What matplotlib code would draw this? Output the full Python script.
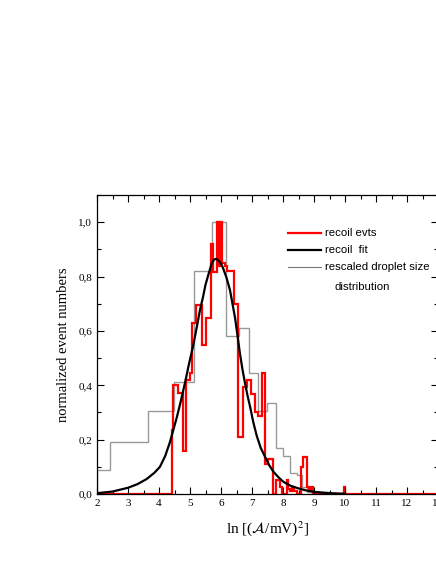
import matplotlib
matplotlib.use("Agg")
from matplotlib import pyplot as plt
from matplotlib.ticker import MultipleLocator, FuncFormatter

plt.rcParams['font.family'] = ['Liberation Serif', 'DejaVu Serif']
plt.rcParams['mathtext.fontset'] = 'stix'

# recoil events (red step histogram)
recoil_edges = [2.0, 4.41, 4.46, 4.62, 4.76, 4.87, 5.00, 5.08, 5.19, 5.38, 5.50,
                5.67, 5.75, 5.86, 5.92, 5.97, 6.03, 6.13, 6.20, 6.42, 6.56,
                6.70, 6.83, 6.97, 7.10, 7.20, 7.31, 7.42, 7.53, 7.69, 7.76,
                7.90, 7.98, 8.12, 8.17, 8.22, 8.30, 8.37, 8.45, 8.58, 8.63,
                8.76, 8.85, 8.90, 8.97, 9.03, 9.97, 10.01, 13.0]
recoil_vals = [0.0, 0.235, 0.40, 0.37, 0.158, 0.42, 0.445, 0.63, 0.697, 0.55,
               0.648, 0.92, 0.817, 1.0, 0.84, 1.0, 0.85, 0.84, 0.82, 0.70,
               0.21, 0.395, 0.42, 0.368, 0.303, 0.287, 0.446, 0.11, 0.13,
               0.0, 0.05, 0.027, 0.0, 0.05, 0.02, 0.01, 0.027, 0.01, 0.0,
               0.10, 0.137, 0.027, 0.015, 0.027, 0.0, 0.0, 0.025, 0.0]

# rescaled droplet size distribution (grey step histogram)
droplet_edges = [2.0, 2.42, 3.63, 4.48, 5.14, 5.70, 6.15, 6.58, 6.90, 7.20,
                 7.47, 7.76, 8.01, 8.23, 8.44, 8.60, 8.76, 9.50]
droplet_vals = [0.088, 0.19, 0.305, 0.413, 0.82, 1.0, 0.58, 0.61, 0.444,
                0.305, 0.334, 0.168, 0.14, 0.078, 0.07, 0.027, 0.008]

# recoil fit
fit_x = [2.0, 2.5, 3.0, 3.3, 3.6, 3.85, 4.03, 4.2, 4.35, 4.46, 4.57, 4.7,
         4.84, 4.97, 5.11, 5.22, 5.32, 5.42, 5.5, 5.6, 5.7, 5.77, 5.83,
         5.89, 5.95, 6.01, 6.07, 6.18, 6.29, 6.37, 6.45, 6.53, 6.61, 6.69,
         6.77, 6.85, 6.94, 7.04, 7.15, 7.28, 7.42, 7.55, 7.69, 7.85, 8.01,
         8.25, 8.49, 8.75, 9.0, 9.5, 10.0]
fit_y = [0.003, 0.009, 0.023, 0.036, 0.055, 0.078, 0.10, 0.14, 0.19, 0.235,
         0.28, 0.34, 0.41, 0.48, 0.55, 0.615, 0.676, 0.725, 0.77, 0.81,
         0.848, 0.862, 0.865, 0.862, 0.855, 0.845, 0.83, 0.795, 0.75, 0.70,
         0.65, 0.585, 0.517, 0.46, 0.41, 0.365, 0.32, 0.265, 0.215, 0.17,
         0.137, 0.107, 0.082, 0.062, 0.045, 0.03, 0.021, 0.013, 0.008,
         0.003, 0.001]

fig = plt.figure(figsize=(4.36, 5.64), dpi=100)
ax = fig.add_axes([0.2225, 0.1241, 0.7821, 0.5301])

ax.stairs(droplet_vals, droplet_edges, color='#999999', linewidth=1.0)
ax.stairs(recoil_vals, recoil_edges, color='#ff0000', linewidth=1.6)
ax.plot(fit_x, fit_y, color='black', linewidth=1.6)

ax.set_xlim(2, 13)
ax.set_ylim(0, 1.1)
ax.xaxis.set_major_locator(MultipleLocator(1))
ax.xaxis.set_minor_locator(MultipleLocator(0.5))
ax.yaxis.set_major_locator(MultipleLocator(0.2))
ax.yaxis.set_minor_locator(MultipleLocator(0.1))
ax.yaxis.set_major_formatter(FuncFormatter(lambda v, p: ('%.1f' % v).replace('.', ',')))
ax.tick_params(which='both', direction='in', top=True, right=True, labelsize=8, width=0.8)
ax.tick_params(which='major', length=5)
ax.tick_params(which='minor', length=3)
for s in ax.spines.values():
    s.set_linewidth(0.9)

ax.set_ylabel('normalized event numbers', fontsize=10.5, labelpad=6)
ax.set_xlabel(r'ln [($\mathcal{A}$/mV)$^2$]', fontsize=11, labelpad=8)

# legend drawn by hand
leg_font = ['Liberation Sans', 'DejaVu Sans']
rows = [('recoil evts', '#ff0000', 1.6), ('recoil  fit', 'black', 1.6),
        ('rescaled droplet size', '#777777', 0.8)]
for i, (lab, col, lw) in enumerate(rows):
    yy = 0.874 - i * 0.057
    ax.plot([0.559, 0.658], [yy, yy], transform=ax.transAxes, color=col, linewidth=lw)
    ax.text(0.669, yy, lab, transform=ax.transAxes, fontsize=8.2, family=leg_font, va='center')
ax.text(0.695, 0.874 - 3 * 0.060, 'distribution', transform=ax.transAxes, fontsize=8.2,
        family=leg_font, va='center')

fig.savefig('out.png', dpi=100)
